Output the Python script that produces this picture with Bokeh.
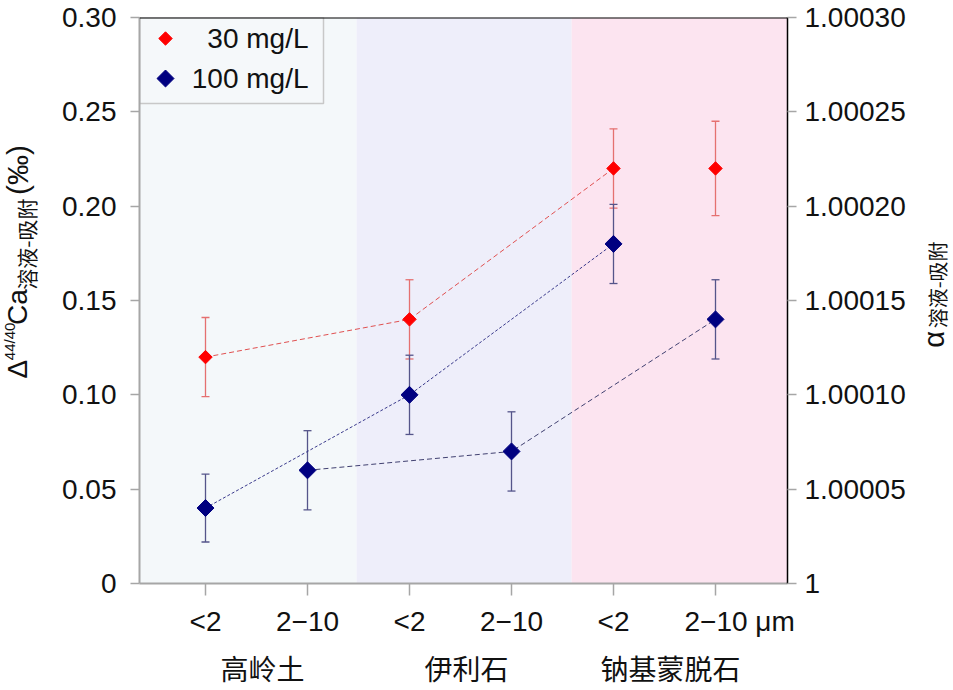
import math
from bokeh.plotting import figure
from bokeh.layouts import row, column
from bokeh.models import (Range1d, LinearAxis, FixedTicker, ColumnDataSource, Whisker,
                          TeeHead, BoxAnnotation, Span)
from bokeh.core.properties import value
from bokeh.embed import file_html
from bokeh.resources import INLINE

# ---------------- data ----------------
size_labels = ["<2", "2−10", "<2", "2−10", "<2", "2−10 μm"]
minerals = ["高岭土", "伊利石", "钠基蒙脱石"]
series_names = ["30 mg/L", "100 mg/L"]

c30_idx = [0, 2, 4, 5]
c30_val = [0.12, 0.14, 0.22, 0.22]
c30_err = [0.021, 0.021, 0.021, 0.025]

c100_idx = [0, 1, 2, 3, 4, 5]
c100_val = [0.04, 0.06, 0.10, 0.07, 0.18, 0.14]
c100_err = [0.018, 0.021, 0.021, 0.021, 0.021, 0.021]

left_ticks = [0, 0.05, 0.1, 0.15, 0.2, 0.25, 0.3]
left_tick_labels = ["0", "0.05", "0.10", "0.15", "0.20", "0.25", "0.30"]
right_tick_labels = ["1", "1.00005", "1.00010", "1.00015", "1.00020", "1.00025", "1.00030"]

# ---------------- layout (page pixels) ----------------
PW, PH = 953, 690
LW, RW = 42, 41           # side strips for rotated titles
TOPH = 605                # height of the top row
MW = PW - LW - RW         # main figure width
FL, FR, FT, FB = 139, 787, 17, 583
X0, DX = 205, 102         # page x of first category, spacing
BAND_EDGES = [1.48, 3.59]

FONT = "Liberation Sans"
CJK = "Noto Sans CJK SC"
RED = "#FF0000"
NAVY = "#000080"
GREY = "#A6A6A6"
TXT = "#111111"
LAT = "28px"


def xr(left_px, right_px):
    return Range1d((left_px - X0) / DX, (right_px - X0) / DX)


# ---------------- main figure ----------------
p = figure(width=MW, height=TOPH, output_backend="svg", toolbar_location=None,
           x_range=xr(FL, FR), y_range=Range1d(0, 0.30),
           min_border_left=FL - LW, min_border_right=LW + MW - FR,
           min_border_top=FT, min_border_bottom=TOPH - FB)
p.extra_x_ranges = {"px": Range1d(FL, FR)}
p.extra_y_ranges = {"px": Range1d(FB, FT)}
p.outline_line_color = None
p.xgrid.visible = False
p.ygrid.visible = False

p.add_layout(BoxAnnotation(right=BAND_EDGES[0], fill_color="#F4F8FA", fill_alpha=1,
                           line_color=None, level="underlay"))
p.add_layout(BoxAnnotation(left=BAND_EDGES[0], right=BAND_EDGES[1], fill_color="#EEEEFA",
                           fill_alpha=1, line_color=None, level="underlay"))
p.add_layout(BoxAnnotation(left=BAND_EDGES[1], fill_color="#FCE4F0", fill_alpha=1,
                           line_color=None, level="underlay"))

ya = p.yaxis[0]
ya.ticker = FixedTicker(ticks=left_ticks)
ya.major_label_overrides = dict(zip(left_ticks, left_tick_labels))
ya.axis_line_color = GREY
ya.axis_line_width = 2
ya.major_tick_line_color = GREY
ya.major_tick_line_width = 1.5
ya.major_tick_in = 0
ya.major_tick_out = 9
ya.minor_tick_line_color = None
ya.major_label_text_font = FONT
ya.major_label_text_font_size = LAT
ya.major_label_text_color = TXT
ya.major_label_standoff = 14

xa = p.xaxis[0]
xa.ticker = FixedTicker(ticks=list(range(len(size_labels))))
xa.major_label_overrides = {i: "" for i in range(len(size_labels))}
xa.major_label_text_font_size = "0px"
xa.major_label_standoff = 0
xa.axis_line_color = GREY
xa.axis_line_width = 2
xa.major_tick_line_color = GREY
xa.major_tick_line_width = 1.5
xa.major_tick_in = 0
xa.major_tick_out = 12
xa.minor_tick_line_color = None

ra = LinearAxis(ticker=FixedTicker(ticks=left_ticks),
                major_label_overrides=dict(zip(left_ticks, right_tick_labels)))
ra.axis_line_color = "black"
ra.axis_line_width = 1.5
ra.major_tick_line_color = GREY
ra.major_tick_line_width = 1.5
ra.major_tick_in = 0
ra.major_tick_out = 9
ra.minor_tick_line_color = None
ra.major_label_text_font = FONT
ra.major_label_text_font_size = LAT
ra.major_label_text_color = TXT
ra.major_label_standoff = 8
p.add_layout(ra, "right")

p.add_layout(Span(location=0.30, dimension="width", line_color="black", line_width=2))


def whisk(idx, val, err, color):
    src = ColumnDataSource(dict(x=idx, upper=[v + e for v, e in zip(val, err)],
                                lower=[v - e for v, e in zip(val, err)]))
    p.add_layout(Whisker(source=src, base="x", upper="upper", lower="lower",
                         line_color=color, line_width=1.3, level="underlay",
                         upper_head=TeeHead(size=8, line_color=color, line_width=1.3),
                         lower_head=TeeHead(size=8, line_color=color, line_width=1.3)))


whisk(c30_idx, c30_val, c30_err, "#E57070")
whisk(c100_idx, c100_val, c100_err, "#55558A")

lt2 = [i for i, s in enumerate(size_labels) if s.startswith("<")]
mid = [i for i, s in enumerate(size_labels) if not s.startswith("<")]
p.line([x for x in c30_idx if x in lt2],
       [v for x, v in zip(c30_idx, c30_val) if x in lt2],
       line_color="#E05050", line_width=1, line_dash="5 3")
p.line([c100_idx[i] for i in lt2], [c100_val[i] for i in lt2],
       line_color="#3A3A8C", line_width=1, line_dash="3 2")
p.line([c100_idx[i] for i in mid], [c100_val[i] for i in mid],
       line_color="#404070", line_width=1, line_dash="5 3")

p.scatter(c30_idx, c30_val, marker="square", angle=math.pi / 4, size=9.5,
          fill_color=RED, line_color=RED)
p.scatter(c100_idx, c100_val, marker="square", angle=math.pi / 4, size=12,
          fill_color=NAVY, line_color=NAVY)

# legend (manual, right-aligned text)
p.quad(left=[FL], right=[323], top=[FT], bottom=[FT + 86], fill_color="#F5F8FA",
       line_color="#C8C8C8", line_width=1.5, x_range_name="px", y_range_name="px")
p.scatter([165], [FT + 21], marker="square", angle=math.pi / 4, size=9.5,
          fill_color=RED, line_color=RED, x_range_name="px", y_range_name="px")
p.scatter([165], [FT + 61], marker="square", angle=math.pi / 4, size=12,
          fill_color=NAVY, line_color=NAVY, x_range_name="px", y_range_name="px")
p.text([308, 308], [FT + 21, FT + 61], text=series_names, text_align="right",
       text_baseline="middle", text_font=value(FONT), text_font_size=value(LAT),
       text_color=TXT, x_range_name="px", y_range_name="px")


# ---------------- strips ----------------
def strip(w, h, x0, y0):
    f = figure(width=w, height=h, output_backend="svg", toolbar_location=None,
               x_range=Range1d(x0, x0 + w), y_range=Range1d(y0 + h, y0),
               min_border=0, x_axis_type=None, y_axis_type=None)
    f.outline_line_color = None
    f.grid.visible = False
    return f


def piece(f, x, y, text, font, size):
    f.text([x], [y], text=[text], angle=math.pi / 2, text_align="left",
           text_baseline="middle", text_font=value(font),
           text_font_size=value(f"{size}px"), text_color=TXT)


L = strip(LW, TOPH, 0, 0)
y = 386
piece(L, 17, y, "Δ", FONT, 28); y -= 0.668 * 28 + 1
piece(L, 9, y, "44/40", FONT, 15); y -= 2.502 * 15
piece(L, 17, y, "Ca", FONT, 28); y -= 1.278 * 28 + 2
piece(L, 25, y, "溶液-吸附", CJK, 21); y -= 4.34 * 21 + 10
piece(L, 17, y, "(‰)", FONT, 30)

R = strip(RW, TOPH, LW + MW, 0)
y = 353
piece(R, 933, y, "α", FONT, 29); y -= 0.578 * 29 + 4
piece(R, 937, y, "溶液-吸附", CJK, 20)

# bottom strip with category labels (same category scale as the main plot)
B = figure(width=PW, height=PH - TOPH, output_backend="svg", toolbar_location=None,
           x_range=xr(0, PW), y_range=Range1d(PH, TOPH),
           min_border=0, x_axis_type=None, y_axis_type=None)
B.outline_line_color = None
B.grid.visible = False
last = len(size_labels) - 1
B.text(list(range(last)), [621] * last, text=size_labels[:last], text_align="center",
       text_baseline="middle", text_font=value(FONT), text_font_size=value(LAT),
       text_color=TXT)
B.text([last], [621], text=[size_labels[last]], text_align="left", x_offset=-31,
       text_baseline="middle", text_font=value(FONT), text_font_size=value(LAT),
       text_color=TXT)
B.text([2 * g + 0.5 for g in range(len(minerals))], [667] * len(minerals), text=minerals,
       text_align="center", text_baseline="middle", x_offset=6, text_font=value(CJK),
       text_font_size=value("28px"), text_color=TXT)

layout = column(row(L, p, R), B)
open("out.html", "w").write(file_html(layout, INLINE))
